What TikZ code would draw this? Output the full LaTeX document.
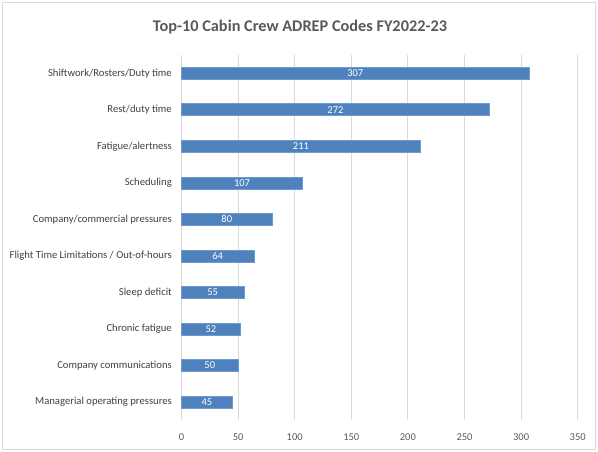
\documentclass[tikz,border=0pt]{standalone}
\usepackage{fontspec}
\setmainfont{Carlito}
\definecolor{barblue}{RGB}{79,129,189}
\definecolor{baredge}{RGB}{110,155,205}
\definecolor{gridgray}{RGB}{217,217,217}
\definecolor{txtgray}{RGB}{89,89,89}
\definecolor{labgray}{RGB}{64,64,64}
\begin{document}
\begin{tikzpicture}[x=1pt,y=-1pt,
  grid/.style={draw=gridgray,line width=0.9pt},
  catlabel/.style={anchor=east,inner sep=0pt,text=labgray,font=\fontsize{10.65}{12}\selectfont},
  ticklabel/.style={anchor=center,inner sep=0pt,text=txtgray,font=\fontsize{10.5}{12}\selectfont},
  vallabel/.style={anchor=center,inner sep=0pt,text=white,font=\fontsize{10.5}{12}\selectfont},
  barbox/.style={fill=barblue,draw=baredge,line width=0.5pt}]
\useasboundingbox (0,0) rectangle (598,452);
% chart frame
\draw[draw=gridgray,line width=0.8pt] (2.5,2.5) rectangle (595.5,449.5);
% title
\node[text=txtgray,font=\bfseries\fontsize{16.3}{19}\selectfont] (title) at (300,27) {Top-10 Cabin Crew ADREP Codes FY2022-23};
% vertical gridlines and value axis
\foreach \v in {0,50,...,350} {
  \draw[grid] ({181.5+1.132*\v},55) -- ({181.5+1.132*\v},420);
  \node[ticklabel] (tick\v) at ({181.5+1.132*\v},437) {\v};
}
% bars
\foreach \i/\lab/\v in {
  0/{Shiftwork/Rosters/Duty time}/307,
  1/{Rest/duty time}/272,
  2/{Fatigue/alertness}/211,
  3/{Scheduling}/107,
  4/{Company/commercial pressures}/80,
  5/{Flight Time Limitations / Out-of-hours}/64,
  6/{Sleep deficit}/55,
  7/{Chronic fatigue}/52,
  8/{Company communications}/50,
  9/{Managerial operating pressures}/45} {
  \pgfmathsetmacro{\yc}{73.25+36.5*\i}
  \pgfmathsetmacro{\xe}{181.5+1.132*\v}
  \draw[barbox] (181.5,\yc-6) rectangle (\xe,\yc+6);
  \node[vallabel] (val\i) at ({(181.5+\xe)/2},\yc) {\v};
  \node[catlabel] (cat\i) at (172,\yc) {\lab};
}
\end{tikzpicture}
\end{document}
